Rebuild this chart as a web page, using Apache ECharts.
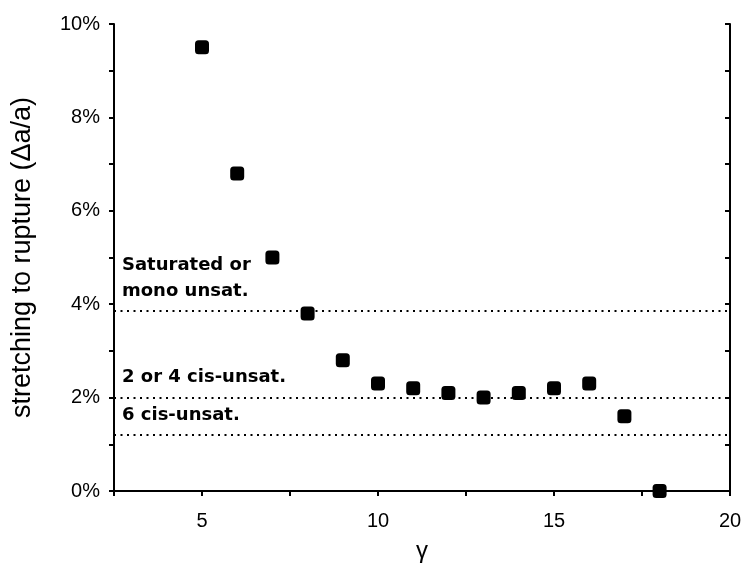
<!DOCTYPE html>
<html>
<head>
<meta charset="utf-8">
<script src="https://cdn.jsdelivr.net/npm/echarts@6/dist/echarts.min.js"></script>
<style>html,body{margin:0;padding:0;background:#fff}#c{width:742px;height:571px}</style>
</head>
<body>
<div id="c"></div>
<script>
const gammaValues = [5, 6, 7, 8, 9, 10, 11, 12, 13, 14, 15, 16, 17, 18];
const stretchValues = [9.5, 6.8, 5.0, 3.8, 2.8, 2.3, 2.2, 2.1, 2.0, 2.1, 2.2, 2.3, 1.6, 0.0];
const referenceLevels = [3.85, 2.0, 1.2];
const referenceLabels = ['Saturated or\nmono unsat.', '2 or 4 cis-unsat.', '6 cis-unsat.'];
const xTickLabels = [5, 10, 15, 20];
const yTickLabels = [0, 2, 4, 6, 8, 10];

const FONT = '"Liberation Sans", Arial, sans-serif';
const chart = echarts.init(document.getElementById('c'), null, {renderer: 'canvas'});

const axisLine = {show: true, lineStyle: {color: '#000', width: 2}};
const option = {
  backgroundColor: '#fff',
  animation: false,
  grid: {left: 114, right: 12, top: 24, bottom: 80, containLabel: false, outerBoundsMode: 'none'},
  xAxis: [{
    type: 'value', min: 2.5, max: 20, interval: 2.5, position: 'bottom',
    axisLine: axisLine,
    axisTick: {show: true, inside: false, length: 5, lineStyle: {color: '#000', width: 2}},
    axisLabel: {color: '#000', fontFamily: FONT, fontSize: 20, margin: 20,
      formatter: v => xTickLabels.indexOf(v) >= 0 ? String(v) : ''},
    splitLine: {show: false},
    name: 'γ', nameLocation: 'middle', nameGap: 48,
    nameTextStyle: {color: '#000', fontFamily: FONT, fontSize: 24}
  }, {
    type: 'value', min: 2.5, max: 20, interval: 2.5, position: 'top',
    axisLine: axisLine,
    axisTick: {show: true, inside: true, length: 5, lineStyle: {color: '#000', width: 2}},
    axisLabel: {show: false}, splitLine: {show: false}
  }],
  yAxis: [{
    type: 'value', min: 0, max: 10, interval: 1, position: 'left',
    axisLine: axisLine,
    axisTick: {show: true, inside: false, length: 5, lineStyle: {color: '#000', width: 2}},
    axisLabel: {color: '#000', fontFamily: FONT, fontSize: 20, margin: 14,
      formatter: v => yTickLabels.indexOf(v) >= 0 ? v + '%' : ''},
    splitLine: {show: false},
    name: 'stretching to rupture (Δa/a)', nameLocation: 'middle', nameGap: 78,
    nameTextStyle: {color: '#000', fontFamily: FONT, fontSize: 27}
  }, {
    type: 'value', min: 0, max: 10, interval: 1, position: 'right',
    axisLine: axisLine,
    axisTick: {show: true, inside: true, length: 5, lineStyle: {color: '#000', width: 2}},
    axisLabel: {show: false}, splitLine: {show: false}
  }],
  series: [{
    type: 'scatter',
    xAxisIndex: 0, yAxisIndex: 0,
    data: gammaValues.map((g, i) => [g, stretchValues[i]]),
    symbol: 'roundRect', symbolSize: 14,
    itemStyle: {color: '#000', opacity: 1},
    z: 5,
    markLine: {
      silent: true, symbol: 'none',
      lineStyle: {color: '#000', type: [2, 4.5], width: 2},
      label: {show: true, position: 'insideStartTop', color: '#000',
        fontFamily: '"DejaVu Sans", sans-serif', fontWeight: 'bold', fontSize: 18,
        distance: [8, 7], lineHeight: 26},
      data: referenceLevels.map((y, i) => ({yAxis: y, label: {formatter: referenceLabels[i]}}))
    }
  }]
};
chart.setOption(option);
</script>
</body>
</html>
